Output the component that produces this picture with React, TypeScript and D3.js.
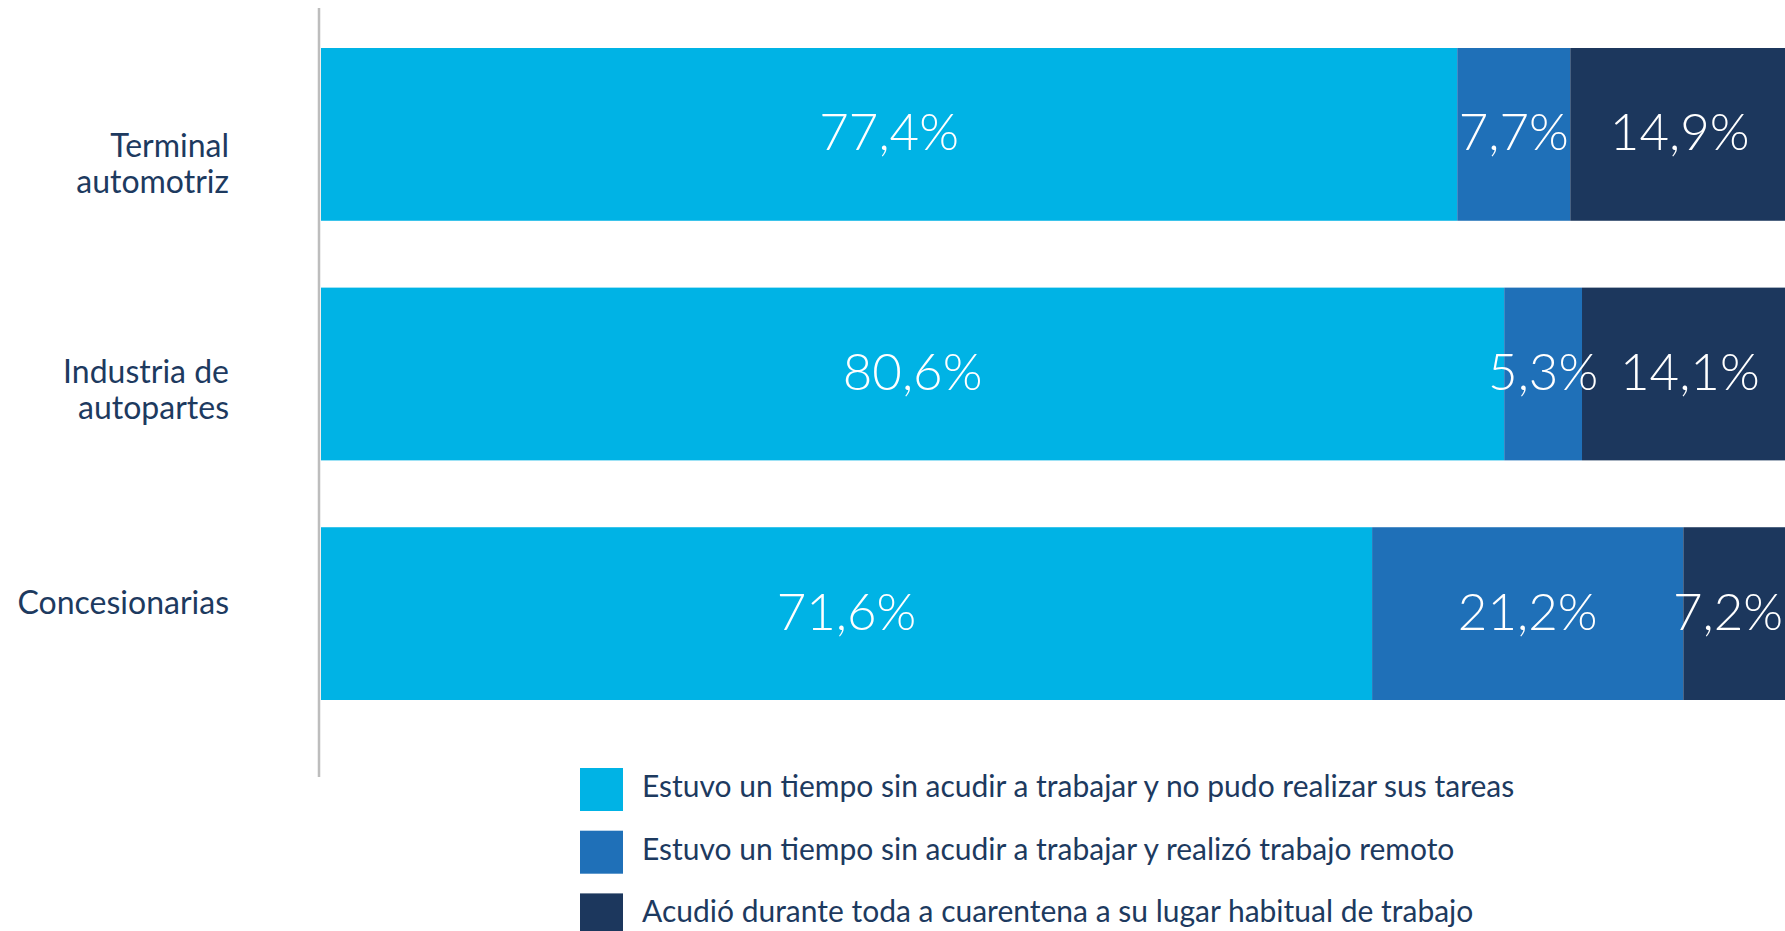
import React from "react";
import * as d3 from "d3";

const categories = ["Terminal automotriz", "Industria de autopartes", "Concesionarias"];
const categoryLines = [["Terminal", "automotriz"], ["Industria de", "autopartes"], ["Concesionarias"]];
const seriesNames = [
  "Estuvo un tiempo sin acudir a trabajar y no pudo realizar sus tareas",
  "Estuvo un tiempo sin acudir a trabajar y realizó trabajo remoto",
  "Acudió durante toda a cuarentena a su lugar habitual de trabajo",
];
const noPudo = [77.4, 80.6, 71.6];
const remoto = [7.7, 5.3, 21.2];
const acudio = [14.9, 14.1, 7.2];
const colors = ["#00b3e5", "#1f70b8", "#1c375d"];

const W = 1785;
const H = 931;
const FONT = "Lato, 'Open Sans', sans-serif";
const TEXT = "#1d3a5f";
const labelFirstDy = [23, 9, 0];

const fmt = (v: number) => v.toFixed(1).replace(".", ",") + "%";

export default function App() {
  const keys = ["a", "b", "c"];
  const rows = categories.map((c, i) => ({ cat: c, a: noPudo[i], b: remoto[i], c: acudio[i] }));
  const stacked = d3.stack<any>().keys(keys)(rows);

  const x = d3.scaleLinear().domain([0, 100]).range([321, 1789]);
  const y = d3.scaleBand<string>().domain(categories).range([48, 700]).paddingInner(0.279).paddingOuter(0);
  const bw = y.bandwidth();
  const labelSize = 51;

  // label positions: centered, pushed apart if they collide, kept inside the view
  const labels: { x: number; y: number; t: string }[] = [];
  categories.forEach((c, i) => {
    let prevRight = -Infinity;
    stacked.forEach((layer) => {
      const d = layer[i];
      const t = fmt(d[1] - d[0]);
      const w = t.length * labelSize * 0.5;
      let cx = (x(d[0]) + x(d[1])) / 2;
      if (cx - w / 2 < prevRight + 32) cx = prevRight + 32 + w / 2;
      if (cx + w / 2 > W - 6) cx = W - 6 - w / 2;
      prevRight = cx + w / 2;
      labels.push({ x: cx, y: y(c)! + bw / 2 + 16, t });
    });
  });

  return (
    <svg
      width={W}
      height={H}
      style={{ position: "absolute", left: 0, top: 0, display: "block", overflow: "hidden" }}
      fontFamily={FONT}
    >
      <rect x={0} y={0} width={W} height={H} fill="#fff" />
      {stacked.map((layer, si) =>
        layer.map((d, i) => (
          <rect
            key={`${si}-${i}`}
            x={x(d[0])}
            y={y(categories[i])!}
            width={x(d[1]) - x(d[0])}
            height={bw}
            fill={colors[si]}
          />
        ))
      )}
      {labels.map((l, k) => (
        <text key={k} x={l.x} y={l.y} textAnchor="middle" fill="#fff" fontSize={labelSize} fontWeight={300}>
          {l.t}
        </text>
      ))}
      <line x1={319} x2={319} y1={8} y2={777} stroke="#bdbdbd" strokeWidth={2.5} />
      {categories.map((c, i) => {
        const cy = y(c)! + bw / 2;
        return (
          <text key={c} x={229} textAnchor="end" fill={TEXT} fontSize={32}>
            {categoryLines[i].map((ln, k) => (
              <tspan key={k} x={229} y={cy + labelFirstDy[i] + k * 36}>
                {ln}
              </tspan>
            ))}
          </text>
        );
      })}
      {seriesNames.map((s, i) => (
        <g key={s} transform={`translate(580, ${768 + i * 62.7})`}>
          <rect x={0} y={0} width={43} height={43} fill={colors[i]} />
          <text x={62} y={29} fill={TEXT} fontSize={30}>
            {s}
          </text>
        </g>
      ))}
    </svg>
  );
}
